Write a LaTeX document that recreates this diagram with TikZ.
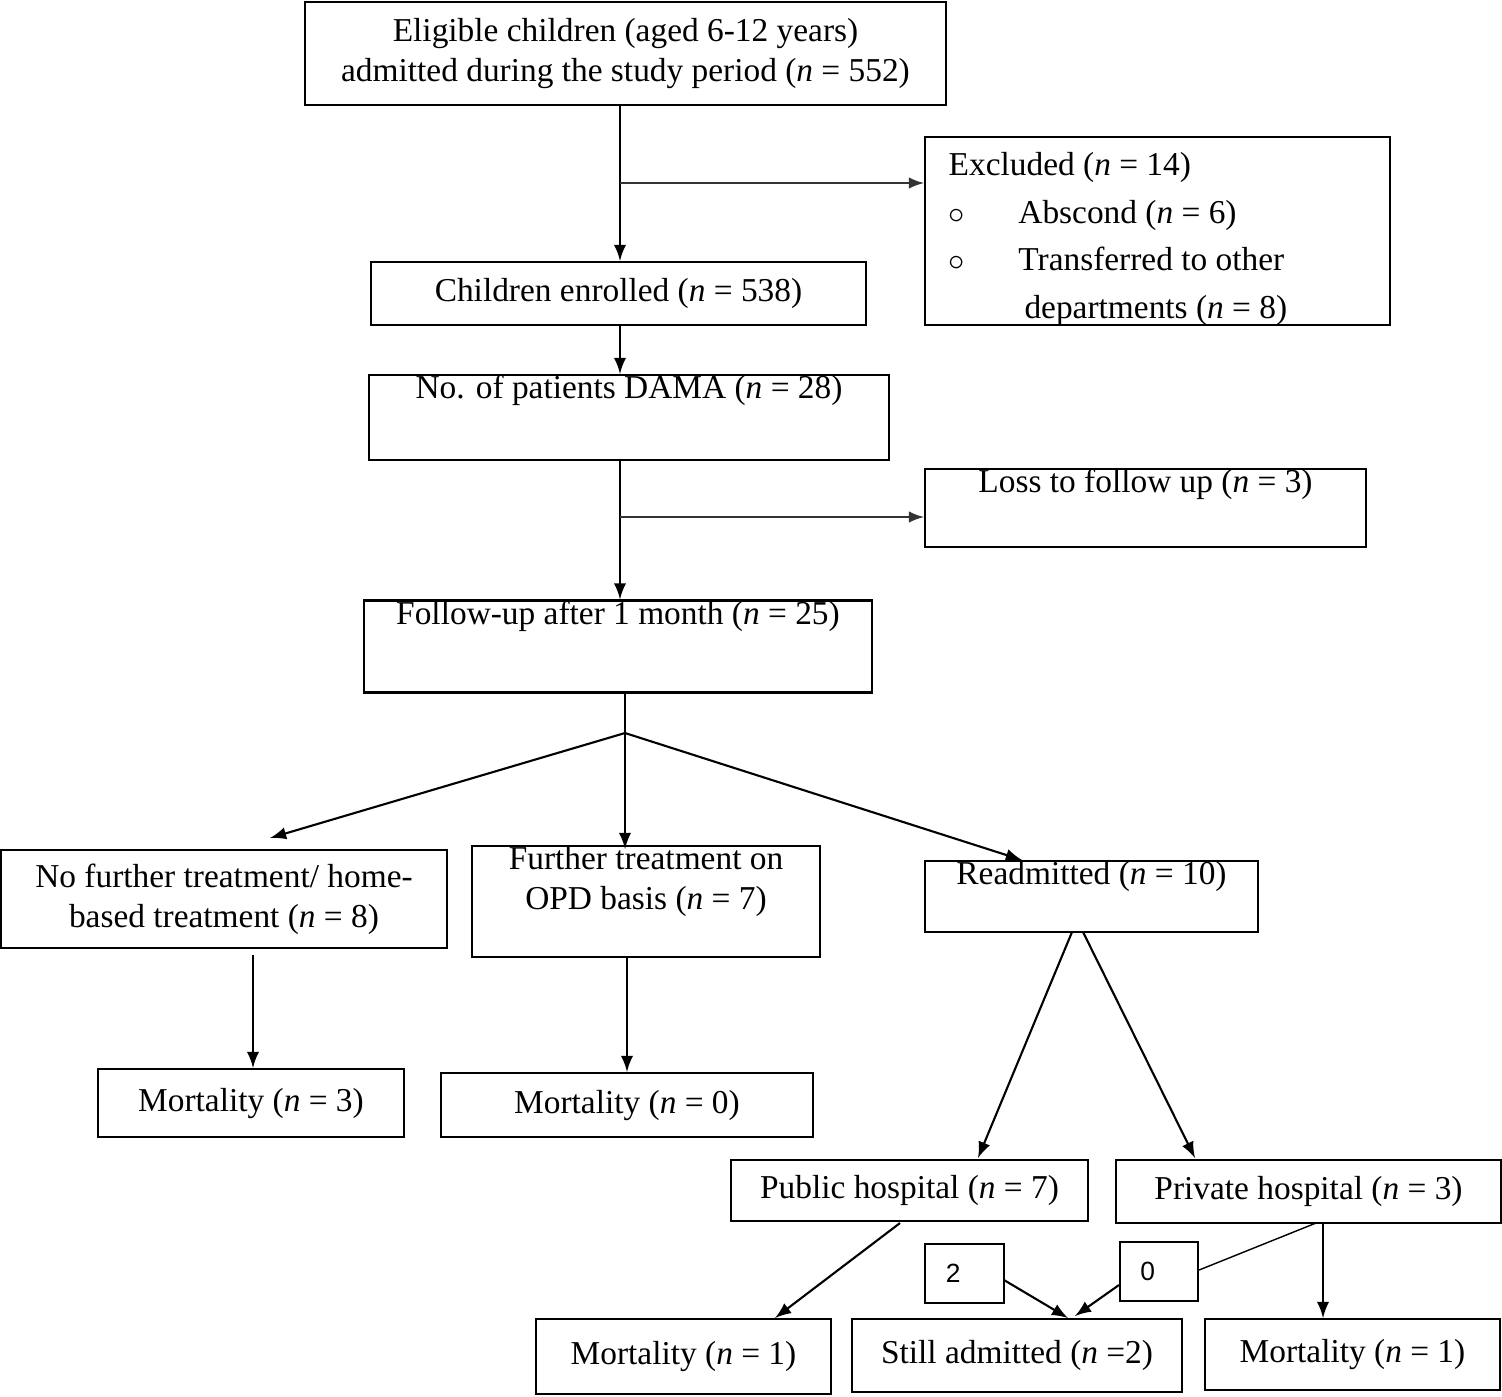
\documentclass[tikz,border=0pt]{standalone}
\usepackage{fontspec}
\setmainfont{Liberation Serif}
\newfontfamily\sansf{Liberation Sans}
\usetikzlibrary{positioning}
\tikzset{
  box/.style = {draw, shape = rectangle, line width = 0.6pt, inner sep = 0pt, align = center, font = \fontsize{9.5}{11.5}\selectfont},
  num/.style = {draw, shape = rectangle, line width = 0.6pt, inner sep = 0pt, font = \sansf\fontsize{7.5}{9}\selectfont},
  arr/.style = {-latex, line width = 0.6pt},
  garr/.style = {-latex, line width = 0.5pt, gray!40!black}
}
\newcommand{\boxat}[6]{\node[box, minimum width = #3cm - #2cm, minimum height = #5cm - #4cm] (#1) at ({(#2+#3)/2}, {-(#4+#5)/2}) {#6};}
\begin{document}
\begin{tikzpicture}
\useasboundingbox (0,0) rectangle (15.02,-13.96);
\boxat{elig}{3.05}{9.46}{0.02}{1.05}{Eligible children (aged 6-12 years)\\admitted during the study period (\textit{n} = 552)}
\boxat{excl}{9.25}{13.90}{1.37}{3.25}{}
\node[font = \fontsize{9.5}{11.5}\selectfont, align = left, anchor = north west, inner sep = 0pt] (excltxt) at (9.48,-1.52) {Excluded (\textit{n} = 14)\\[2pt]
$\circ$\hspace{1.6em}Abscond (\textit{n} = 6)\\[2pt]
$\circ$\hspace{1.6em}Transferred to other\\[2pt]
\hspace{2.27em}departments (\textit{n} = 8)};
\boxat{enrol}{3.71}{8.66}{2.62}{3.25}{Children enrolled (\textit{n} = 538)}
\boxat{dama}{3.69}{8.89}{3.78}{4.57}{No. of patients DAMA (\textit{n} = 28)\\[6pt]}
\boxat{loss}{9.25}{13.66}{4.71}{5.45}{Loss to follow up (\textit{n} = 3)\\[4pt]}
\boxat{follow}{3.64}{8.72}{6.03}{6.90}{Follow-up after 1 month (\textit{n} = 25)\\[8pt]}
\boxat{nofur}{0.01}{4.47}{8.50}{9.48}{No further treatment/ home-\\based treatment (\textit{n} = 8)}
\boxat{furth}{4.72}{8.20}{8.49}{9.54}{Further treatment on\\OPD basis (\textit{n} = 7)\\[2pt]}
\boxat{readm}{9.25}{12.58}{8.61}{9.32}{Readmitted (\textit{n} = 10)\\[2pt]}
\boxat{mortA}{0.98}{4.04}{10.69}{11.37}{Mortality (\textit{n} = 3)}
\boxat{mortB}{4.41}{8.13}{10.73}{11.37}{Mortality (\textit{n} = 0)}
\boxat{public}{7.31}{10.88}{11.60}{12.21}{Public hospital (\textit{n} = 7)}
\boxat{private}{11.16}{15.01}{11.60}{12.23}{Private hospital (\textit{n} = 3)}
\boxat{mortC}{5.36}{8.31}{13.19}{13.94}{Mortality (\textit{n} = 1)}
\boxat{still}{8.52}{11.82}{13.19}{13.92}{Still admitted (\textit{n} =2)}
\boxat{mortD}{12.05}{15.00}{13.19}{13.90}{Mortality (\textit{n} = 1)}
\node[num, minimum width = 0.79cm, minimum height = 0.59cm] (two) at (9.645,-12.735) {2\hspace{0.3em}\phantom{0}};
\node[num, minimum width = 0.78cm, minimum height = 0.59cm] (zero) at (11.59,-12.715) {0\hspace{0.3em}\phantom{0}};
% connectors
\coordinate (s1) at (6.20,-1.83);
\coordinate (s2) at (6.20,-5.17);
\coordinate (fork) at (6.25,-7.33);
\coordinate (pt) at (11.16,-11.97);
\coordinate (pub) at (9.00,-12.23);
\draw[arr] (elig.south -| s1) -- (enrol.north -| s1);
\draw[garr] (s1) -- (s1 -| excl.west);
\draw[arr] (enrol.south -| s1) -- (dama.north -| s1);
\draw[arr] (dama.south -| s2) -- (follow.north -| s2);
\draw[garr] (s2) -- (s2 -| loss.west);
\draw (follow.south -| fork) -- (fork);
\draw[arr] (fork) -- (2.70,-8.38);
\draw[arr] (fork) -- (6.25,-8.49);
\draw[arr] (fork) -- (10.22,-8.60);
\draw[arr] (2.53,-9.55) -- (mortA.north -| 2.53,0);
\draw[arr] (6.27,-9.57) -- (mortB.north -| 6.27,0);
\draw[arr] (10.72,-9.32) -- (9.78,-11.58);
\draw[arr] (10.83,-9.32) -- (11.95,-11.58);
\draw[arr] (pub) -- (7.75,-13.18);
\draw[arr] (10.04,-12.80) -- (10.68,-13.18);
\draw (13.16,-12.23) -- (zero.east |- 0,-12.70);
\draw[arr] (zero.west |- 0,-12.85) -- (10.75,-13.16);
\draw[arr] (13.23,-12.23) -- (mortD.north -| 13.23,0);
\end{tikzpicture}
\end{document}
